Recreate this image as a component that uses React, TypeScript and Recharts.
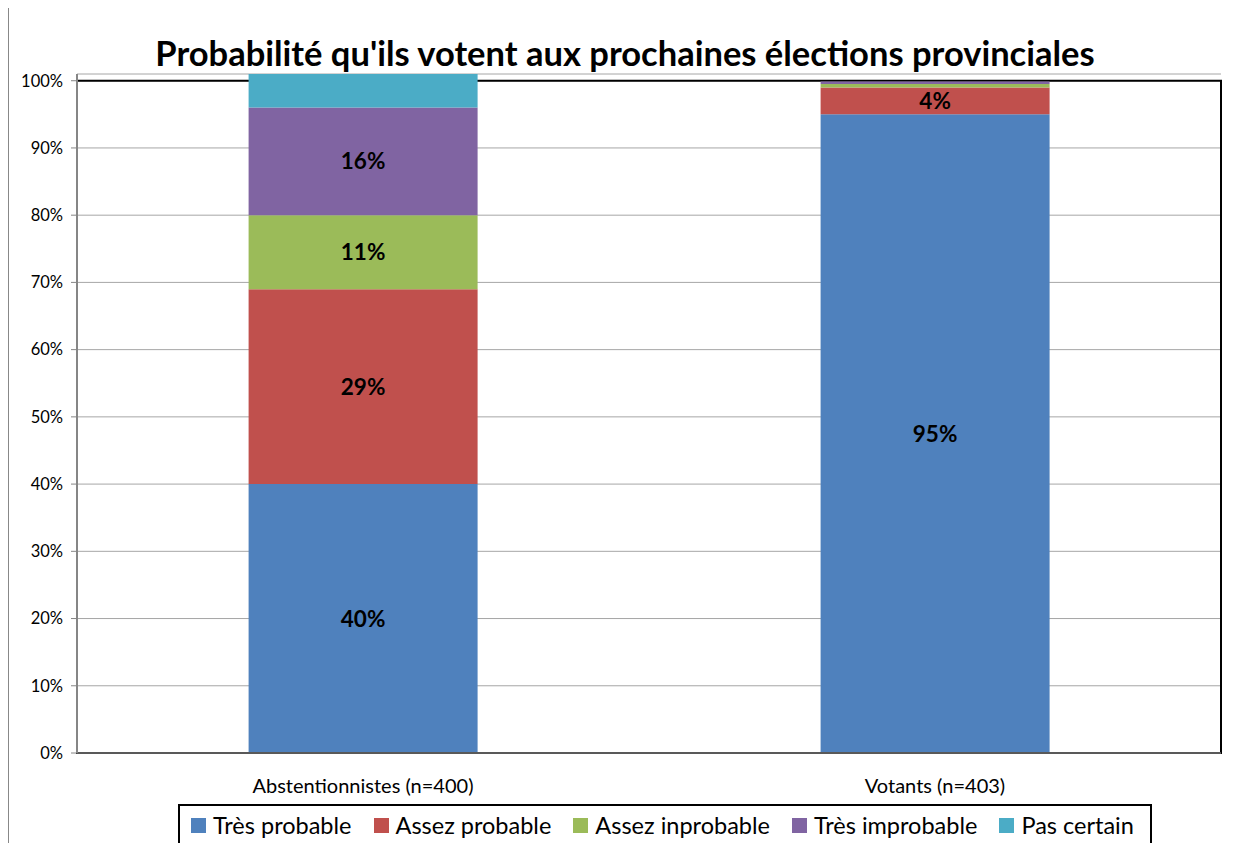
import {
  BarChart,
  Bar,
  XAxis,
  YAxis,
  CartesianGrid,
  Legend,
  LabelList,
  ReferenceArea,
} from "recharts";

const groups = ["Abstentionnistes (n=400)", "Votants (n=403)"];
const tresProbable = [40, 95];
const assezProbable = [29, 4];
const assezInprobable = [11, 0.5];
const tresImprobable = [16, 0.4];
const pasCertain = [5, 0];
const yTicks = [0, 10, 20, 30, 40, 50, 60, 70, 80, 90, 100];

const series = [
  { key: "tp", name: "Très probable", color: "#4F81BD", values: tresProbable, label: true },
  { key: "ap", name: "Assez probable", color: "#C0504D", values: assezProbable, label: true },
  { key: "ai", name: "Assez inprobable", color: "#9BBB59", values: assezInprobable, label: true },
  { key: "ti", name: "Très improbable", color: "#8064A2", values: tresImprobable, label: true },
  { key: "pc", name: "Pas certain", color: "#4BACC6", values: pasCertain, label: false },
];

const data = groups.map((name, i) => {
  const row: Record<string, string | number> = { name };
  series.forEach((s) => (row[s.key] = s.values[i]));
  return row;
});

const FONT = "Lato, 'Open Sans', sans-serif";

function LegendBox() {
  return (
    <div
      style={{
        border: "2px solid #000",
        width: 974,
        height: 42,
        display: "flex",
        alignItems: "center",
        paddingLeft: 11,
        boxSizing: "border-box",
        background: "#fff",
        fontFamily: FONT,
        fontSize: 23.5,
        color: "#000",
        whiteSpace: "nowrap",
      }}
    >
      {series.map((s) => (
        <div key={s.key} style={{ display: "flex", alignItems: "center", marginRight: 22 }}>
          <span style={{ width: 15, height: 15, background: s.color, marginRight: 7, display: "inline-block" }} />
          <span>{s.name}</span>
        </div>
      ))}
    </div>
  );
}

export default function App() {
  return (
    <div
      style={{
        position: "relative",
        width: 1240,
        height: 840,
        borderTop: "1px solid #888",
        borderLeft: "1px solid #888",
        marginTop: -1,
        overflow: "hidden",
        background: "#fff",
        fontFamily: FONT,
      }}
    >
      <div
        style={{
          position: "absolute",
          top: 24,
          left: 0,
          width: 1232,
          textAlign: "center",
          fontSize: 34.5,
          fontWeight: 700,
          color: "#000",
          whiteSpace: "nowrap",
        }}
      >
        Probabilité qu'ils votent aux prochaines élections provinciales
      </div>
      <BarChart
        width={1231}
        height={835}
        data={data}
        margin={{ top: 66, right: 19, left: 0, bottom: 8 }}
        barCategoryGap="30%"
      >
        <CartesianGrid vertical={false} stroke="#A6A6A6" />
        <ReferenceArea y1={0} y2={100} fill="none" stroke="#000" strokeWidth={2} fillOpacity={0} />
        <XAxis
          xAxisId="tk"
          type="number"
          domain={[0, 2]}
          ticks={[0, 1, 2]}
          tick={false}
          axisLine={false}
          tickLine={{ stroke: "#868686" }}
          tickSize={6}
          height={0}
        />
        <XAxis
          dataKey="name"
          axisLine={{ stroke: "#595959", strokeWidth: 2 }}
          tickLine={false}
          tick={{ fill: "#000", fontSize: 20, fontFamily: FONT }}
          tickMargin={20}
          height={40}
        />
        <YAxis
          domain={[0, 101]}
          ticks={yTicks}
          allowDataOverflow
          tickFormatter={(v) => `${v}%`}
          tick={{ fill: "#000", fontSize: 16.5, fontFamily: FONT }}
          axisLine={{ stroke: "#868686", strokeWidth: 2 }}
          tickLine={{ stroke: "#868686" }}
          tickSize={6}
          tickMargin={8}
          width={68}
        />
        <Legend
          content={() => <LegendBox />}
          wrapperStyle={{ position: "absolute", left: 169, top: 796, width: 974 }}
        />
        {series.map((s) => (
          <Bar
            key={s.key}
            dataKey={s.key}
            name={s.name}
            stackId="a"
            fill={s.color}
            isAnimationActive={false}
          >
            {s.label && (
              <LabelList
                dataKey={s.key}
                position="center"
                formatter={(v: number) => (v >= 3 ? `${v}%` : "")}
                style={{ fill: "#000", fontSize: 22.5, fontWeight: 700, fontFamily: FONT }}
              />
            )}
          </Bar>
        ))}
      </BarChart>
    </div>
  );
}
